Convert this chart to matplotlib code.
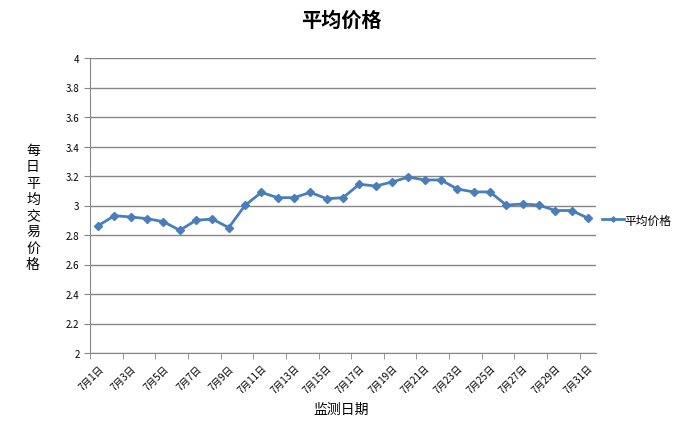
import matplotlib
matplotlib.use("Agg")
import matplotlib.pyplot as plt
import numpy as np

plt.rcParams['font.family'] = ['Noto Sans CJK SC', 'DejaVu Sans']

# data
days = ["7月{}日".format(d) for d in range(1, 32)]
prices = [2.863, 2.931, 2.922, 2.911, 2.890, 2.832, 2.900, 2.908, 2.850, 3.001,
          3.089, 3.053, 3.053, 3.089, 3.046, 3.053, 3.144, 3.132, 3.159, 3.193,
          3.173, 3.173, 3.112, 3.092, 3.092, 3.003, 3.010, 3.003, 2.966, 2.966,
          2.915]
yticks = [2, 2.2, 2.4, 2.6, 2.8, 3, 3.2, 3.4, 3.6, 3.8, 4]
ytick_labels = ["2", "2.2", "2.4", "2.6", "2.8", "3", "3.2", "3.4", "3.6", "3.8", "4"]

line_color = '#4a7ebb'
axis_color = '#868686'

fig = plt.figure(figsize=(6.82, 4.27), dpi=100)
ax = fig.add_axes([90 / 682, 73 / 427, 506 / 682, 295 / 427])

x = np.arange(len(days))
ax.plot(x, prices, color=line_color, linewidth=2, marker='D', markersize=4.5,
        label='平均价格')

ax.set_xlim(-0.5, len(days) - 0.5)
ax.set_ylim(2, 4)
ax.set_yticks(yticks)
ax.set_yticklabels(ytick_labels, fontsize=7)
ax.yaxis.grid(True, color=axis_color, linewidth=1)
ax.set_axisbelow(True)

# labels every other day, tick marks between category groups
ax.set_xticks(x[::2])
ax.set_xticklabels(days[::2], rotation=45, ha='right', rotation_mode='anchor',
                   fontsize=7)
ax.set_xticks(np.arange(-0.5, len(days) - 1, 2), minor=True)
ax.tick_params(axis='x', which='major', length=0, pad=7)
ax.tick_params(axis='x', which='minor', length=4, color=axis_color, direction='out')
ax.tick_params(axis='y', length=4, color=axis_color, direction='out')

for side in ['top', 'right']:
    ax.spines[side].set_visible(False)
for side in ['left', 'bottom']:
    ax.spines[side].set_color(axis_color)

fig.text(341 / 682, 1 - 20 / 427, '平均价格', ha='center', va='center',
         fontsize=14.5, fontweight='bold')
fig.text(341 / 682, 1 - 410 / 427, '监测日期', ha='center', va='center', fontsize=10)
fig.text(33 / 682, 1 - 208 / 427, '\n'.join('每日平均交易价格'), ha='center',
         va='center', fontsize=10, linespacing=1.2)

fig.legend(loc='center left', bbox_to_anchor=(594 / 682, 1 - 221 / 427),
           frameon=False, fontsize=8.5, handlelength=1.8, handletextpad=0.1,
           markerscale=0.6, borderpad=0.2)

fig.savefig('out.png', dpi=100)
